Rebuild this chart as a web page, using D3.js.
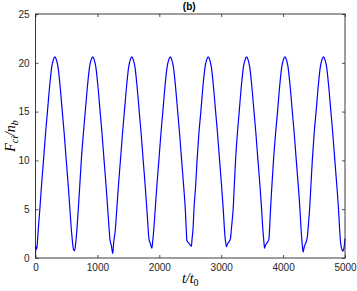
<!DOCTYPE html>
<html>
<head>
<meta charset="utf-8">
<script src="https://cdn.jsdelivr.net/npm/d3@7"></script>
<style>
  body { margin: 0; background: #fff; }
  svg { display: block; }
  .tick text { font-family: "Liberation Sans", Arial, sans-serif; font-size: 10px; fill: #262626; }
</style>
</head>
<body>
<svg id="chart"></svg>
<script>
// time samples (t/t0) and F_ci/n_b
var tVals = [
    0, 8, 20, 35, 48, 70, 98, 129, 163, 193, 233, 263, 288, 313,
    338, 363, 393, 433, 463, 497, 528, 556, 578, 595, 607, 618, 630,
    642, 655, 670, 691, 716, 740, 774, 804, 844, 874, 899, 924,
    949, 974, 1004, 1044, 1074, 1108, 1139, 1167, 1189, 1205, 1225, 1248,
    1262, 1291, 1313, 1341, 1372, 1406, 1436, 1476, 1506, 1531, 1556,
    1581, 1606, 1636, 1676, 1706, 1740, 1771, 1799, 1818, 1832, 1855, 1880,
    1895, 1912, 1934, 1962, 1993, 2027, 2057, 2097, 2127, 2152, 2177,
    2202, 2227, 2257, 2297, 2327, 2361, 2392, 2420, 2435, 2445, 2480, 2518,
    2530, 2545, 2560, 2588, 2610, 2640, 2671, 2710, 2740, 2765, 2790,
    2815, 2840, 2870, 2910, 2940, 2974, 3005, 3033, 3052, 3068, 3085,
    3100, 3130, 3150, 3165, 3180, 3193, 3212, 3232, 3262, 3291, 3330, 3360, 3385, 3410,
    3435, 3460, 3490, 3530, 3560, 3594, 3625, 3653, 3672, 3688, 3700,
    3715, 3745, 3770, 3782, 3797, 3820, 3845, 3879, 3910, 3949, 3979, 4004, 4029,
    4054, 4079, 4109, 4149, 4179, 4213, 4244, 4272, 4290, 4305, 4324,
    4340, 4370, 4392, 4410, 4428, 4450, 4472, 4502, 4533, 4572, 4602, 4627, 4652,
    4677, 4702, 4732, 4772, 4802, 4836, 4867, 4895, 4913, 4925, 4945, 4962, 4980, 5000
];
var fVals = [
    0.4, 1.2, 0.9, 2.0, 3.2, 5.0, 7.5, 10.0, 12.8, 15.0, 17.9, 19.6, 20.3, 20.6,
    20.3, 19.6, 17.9, 15.0, 12.8, 10.0, 7.5, 5.0, 3.0, 1.8, 1.1, 0.8, 0.75,
    1.1, 1.9, 3.0, 5.0, 7.5, 10.0, 12.8, 15.0, 17.9, 19.6, 20.3, 20.6,
    20.3, 19.6, 17.9, 15.0, 12.8, 10.0, 7.5, 5.0, 3.0, 1.8, 1.3, 0.45,
    1.5, 3.0, 5.0, 7.5, 10.0, 12.8, 15.0, 17.9, 19.6, 20.3, 20.6,
    20.3, 19.6, 17.9, 15.0, 12.8, 10.0, 7.5, 5.0, 3.2, 2.0, 1.5, 1.0,
    1.8, 3.0, 5.0, 7.5, 10.0, 12.8, 15.0, 17.9, 19.6, 20.3, 20.6,
    20.3, 19.6, 17.9, 15.0, 12.8, 10.0, 7.5, 5.0, 3.0, 1.8, 1.5, 1.2,
    2.0, 3.0, 5.0, 7.5, 10.0, 12.8, 15.0, 17.9, 19.6, 20.3, 20.6,
    20.3, 19.6, 17.9, 15.0, 12.8, 10.0, 7.5, 5.0, 3.0, 1.8, 1.15,
    1.4, 1.7, 2.0, 3.0, 4.0, 5.0, 7.5, 10.0, 12.8, 15.0, 17.9, 19.6, 20.3, 20.6,
    20.3, 19.6, 17.9, 15.0, 12.8, 10.0, 7.5, 5.0, 3.0, 1.8, 1.0,
    1.3, 1.6, 1.9, 3.0, 5.0, 7.5, 10.0, 12.8, 15.0, 17.9, 19.6, 20.3, 20.6,
    20.3, 19.6, 17.9, 15.0, 12.8, 10.0, 7.5, 5.0, 3.0, 1.7, 0.6,
    1.1, 1.6, 2.2, 3.5, 5.0, 7.5, 10.0, 12.8, 15.0, 17.9, 19.6, 20.3, 20.6,
    20.3, 19.6, 17.9, 15.0, 12.8, 10.0, 7.5, 5.0, 3.0, 1.8, 1.0, 0.7, 0.9, 2.0
];
var xTicks = [0, 1000, 2000, 3000, 4000, 5000];
var yTicks = [0, 5, 10, 15, 20, 25];

var width = 357, height = 291;
var margin = { top: 14, right: 12, bottom: 33, left: 35.5 };
var w = width - margin.left - margin.right;
var h = height - margin.top - margin.bottom;

var svg = d3.select('#chart').attr('width', width).attr('height', height);
var g = svg.append('g').attr('transform', 'translate(' + margin.left + ',' + margin.top + ')');

var x = d3.scaleLinear().domain([0, 5000]).range([0, w]);
var y = d3.scaleLinear().domain([0, 25]).range([h, 0]);

var points = tVals.map(function (t, i) { return [t, fVals[i]]; });

// line first, axes on top
var line = d3.line()
    .x(function (d) { return x(d[0]); })
    .y(function (d) { return y(d[1]); })
    .curve(d3.curveMonotoneX);

g.append('path')
    .datum(points)
    .attr('fill', 'none')
    .attr('stroke', '#0000ff')
    .attr('stroke-width', 1.2)
    .attr('d', line);

function styleAxis(sel) {
    sel.select('.domain').remove();
    sel.selectAll('.tick line').attr('stroke', '#262626').attr('stroke-width', 0.8);
}

g.append('g').attr('transform', 'translate(0,' + h + ')')
    .call(d3.axisBottom(x).tickValues(xTicks).tickSize(-3).tickPadding(6).tickFormat(d3.format('d')))
    .call(styleAxis);
g.append('g')
    .call(d3.axisTop(x).tickValues(xTicks).tickSize(-3).tickFormat(''))
    .call(styleAxis);
g.append('g')
    .call(d3.axisLeft(y).tickValues(yTicks).tickSize(-3).tickPadding(6))
    .call(styleAxis);
g.append('g').attr('transform', 'translate(' + w + ',0)')
    .call(d3.axisRight(y).tickValues(yTicks).tickSize(-3).tickFormat(''))
    .call(styleAxis);

// box
g.append('rect')
    .attr('width', w).attr('height', h)
    .attr('fill', 'none')
    .attr('stroke', '#262626')
    .attr('stroke-width', 0.9);

// title
svg.append('text')
    .attr('x', margin.left + w / 2 - 1)
    .attr('y', 10)
    .attr('text-anchor', 'middle')
    .style('font-family', '"Liberation Sans", Arial, sans-serif')
    .style('font-weight', 'bold')
    .style('font-size', '10px')
    .text('(b)');

// x label  t/t0
var xl = svg.append('text')
    .attr('x', margin.left + w / 2)
    .attr('y', 283)
    .attr('text-anchor', 'middle')
    .style('font-family', '"Liberation Serif", "DejaVu Serif", serif')
    .style('font-size', '14px')
    .style('font-style', 'italic');
xl.append('tspan').text('t/t');
xl.append('tspan').attr('dy', 3).style('font-size', '10px').style('font-style', 'normal').text('0');

// y label  F_ci / n_b
var yl = svg.append('text')
    .attr('transform', 'translate(15,' + (margin.top + h / 2) + ') rotate(-90)')
    .attr('text-anchor', 'middle')
    .style('font-family', '"Liberation Serif", "DejaVu Serif", serif')
    .style('font-size', '14px')
    .style('font-style', 'italic');
yl.append('tspan').text('F');
yl.append('tspan').attr('dy', 3).style('font-size', '10px').text('ci');
yl.append('tspan').attr('dy', -3).text('/n');
yl.append('tspan').attr('dy', 3).style('font-size', '10px').text('b');
</script>
</body>
</html>
